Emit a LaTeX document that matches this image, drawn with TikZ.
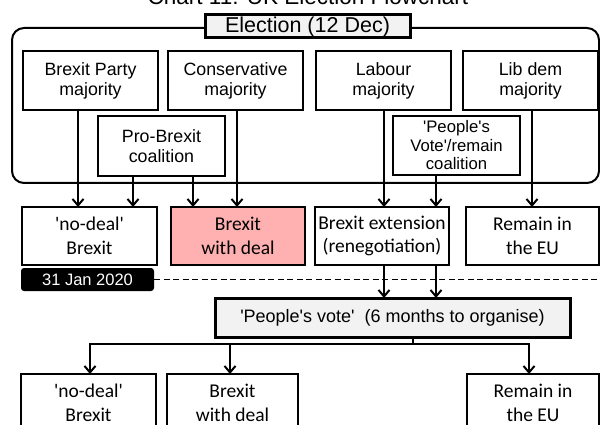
\documentclass[tikz,border=0pt]{standalone}
\usepackage{fontspec}
\setmainfont{Liberation Sans}[Ligatures=TeXOff]
\newfontfamily\calfont{Carlito}[Ligatures=TeXOff]
\usepackage{tikz}
\usetikzlibrary{arrows.meta}
\definecolor{dealpink}{RGB}{255,176,176}
\definecolor{boxgrey}{RGB}{242,242,242}

\begin{document}
\begin{tikzpicture}[x=1pt,y=-1pt]
\tikzstyle{every node}=[inner sep=0pt,outer sep=0pt]
\tikzstyle{party}=[draw,line width=2pt,align=center,minimum width=135pt,minimum height=59pt,font=\fontsize{17.8}{20}\selectfont]
\tikzstyle{coal}=[draw,line width=2pt,align=center,minimum width=127pt,minimum height=60pt]
\tikzstyle{outcome}=[draw,line width=2pt,align=center,minimum height=58pt,font=\calfont\fontsize{19.5}{23.5}\selectfont]
\tikzstyle{greybox}=[draw,fill=boxgrey,line width=3pt]
\tikzstyle{arr}=[line width=2pt,-{Straight Barb[length=6.5pt,width=11pt]}]
\useasboundingbox (0,0) rectangle (600,425);
\node (title) [anchor=base,font=\fontsize{22.5}{27}\selectfont] at (308,5) {Chart 11: UK Election Flowchart};
% election frame
\node (frame) [draw,line width=2pt,rounded corners=12pt,minimum width=587pt,minimum height=155pt] at (305.5,105.5) {};
\node (elec) [greybox,minimum width=205pt,minimum height=23pt,font=\fontsize{21.5}{24}\selectfont] at (307.5,26.5) {Election (12 Dec)};
\node (bpm) [party] at (90.5,80.5) {Brexit Party\\majority};
\node (con) [party] at (235.5,80.5) {Conservative\\majority};
\node (lab) [party] at (383.5,80.5) {Labour\\majority};
\node (lib) [party] at (530.5,80.5) {Lib dem\\majority};
\node (pro) [coal,font=\fontsize{17.8}{20}\selectfont] at (161.5,146) {Pro-Brexit\\coalition};
\node (pv) [coal,minimum height=59pt,font=\fontsize{16.7}{18.5}\selectfont] at (456.5,145.5) {'People's\\Vote'/remain\\coalition};
% outcomes before 31 Jan
\node (nd1) [outcome,minimum width=135pt] at (89.5,236) {'no-deal'\\Brexit};
\node (wd1) [outcome,minimum width=134pt,fill=dealpink] at (238,236) {Brexit\\with deal};
\node (ext) [outcome,minimum width=134pt] at (382,236) {Brexit extension\\(renegotiation)};
\node (rem1) [outcome,minimum width=133pt] at (532.5,236) {Remain in\\the EU};
\node (jan) [fill=black,rounded corners=3pt,minimum width=133pt,minimum height=23pt,text=white,font=\fontsize{16.5}{18}\selectfont] at (87.5,279.5) {31 Jan 2020};
\coordinate (jend) at (600,279.5);
\draw[line width=1.8pt,dash pattern=on 6pt off 3.5pt] (jan.east) -- (jend);
% second vote
\node (vote) [greybox,minimum width=355pt,minimum height=39pt,font=\fontsize{18}{20}\selectfont] at (392.5,317.5) {'People's vote'\ \ (6\ months\ to organise)};
\node (nd2) [outcome,minimum width=135pt] at (88.5,403) {'no-deal'\\Brexit};
\node (wd2) [outcome,minimum width=131pt] at (232.5,403) {Brexit\\with deal};
\node (rem2) [outcome,minimum width=132pt] at (533,403) {Remain in\\the EU};
% arrows
\draw[arr] ([xshift=-12.5pt]bpm.south) -- ([xshift=-12.5pt]bpm.south |- nd1.north);
\draw[arr] ([xshift=-28.5pt]pro.south) -- ([xshift=-28.5pt]pro.south |- nd1.north);
\draw[arr] ([xshift=31.5pt]pro.south) -- ([xshift=31.5pt]pro.south |- wd1.north);
\draw[arr] ([xshift=1.5pt]con.south) -- ([xshift=1.5pt]con.south |- wd1.north);
\draw[arr] ([xshift=0.5pt]lab.south) -- ([xshift=0.5pt]lab.south |- ext.north);
\draw[arr] ([xshift=-20.5pt]pv.south) -- ([xshift=-20.5pt]pv.south |- ext.north);
\draw[arr] ([xshift=1.5pt]lib.south) -- ([xshift=1.5pt]lib.south |- rem1.north);
\draw[arr] ([xshift=2pt]ext.south) -- ([xshift=2pt]ext.south |- vote.north);
\draw[arr] ([xshift=54pt]ext.south) -- ([xshift=54pt]ext.south |- vote.north);
\draw[arr] ([xshift=20.5pt]vote.south) -- ++(0,7) -| ([xshift=1.5pt]nd2.north);
\draw[arr] ([xshift=20.5pt]vote.south) -- ++(0,7) -| ([xshift=-2.5pt]wd2.north);
\draw[arr] ([xshift=20.5pt]vote.south) -- ++(0,7) -| ([xshift=-4pt]rem2.north);
\end{tikzpicture}
\end{document}
